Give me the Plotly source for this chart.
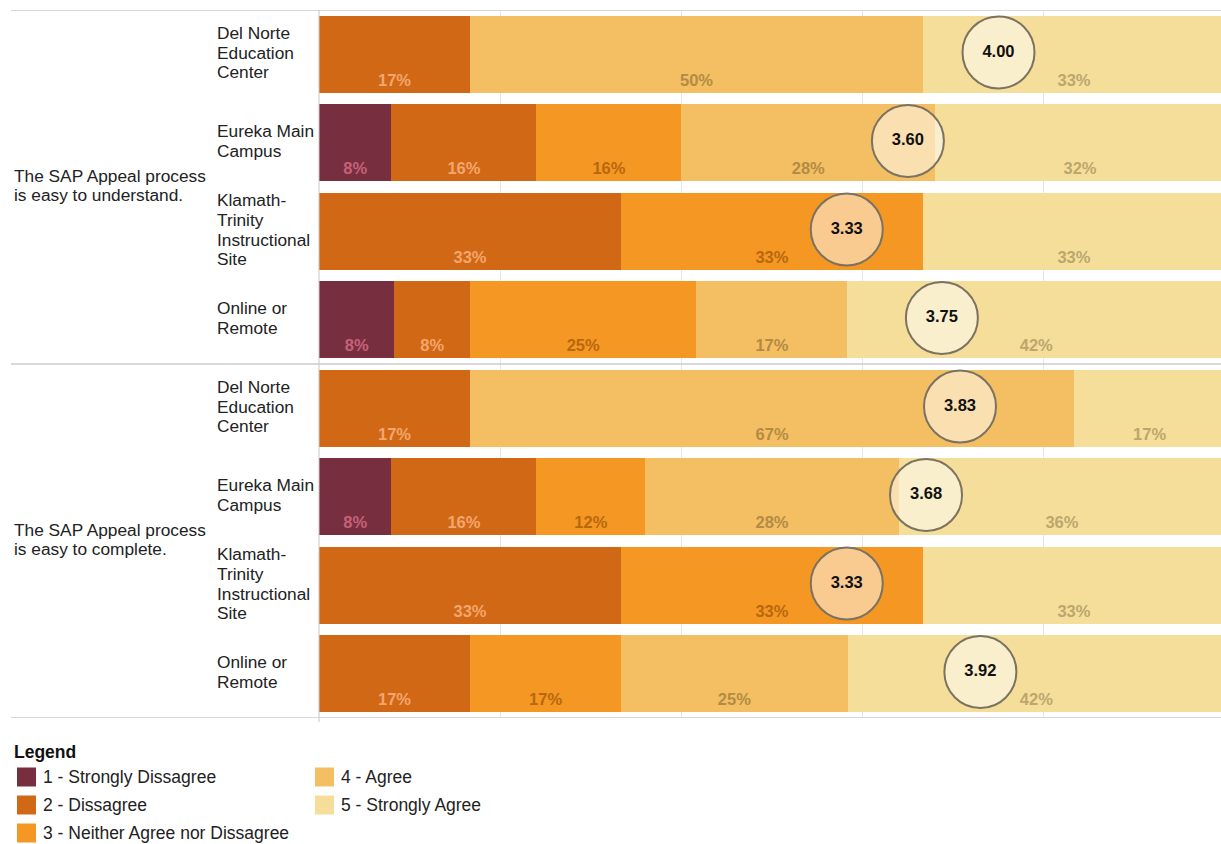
import plotly.graph_objects as go

# Survey responses by campus, percent of respondents per rating
questions = [["The SAP Appeal process", "is easy to understand."],
             ["The SAP Appeal process", "is easy to complete."]]
campuses = [["Del Norte", "Education", "Center"],
            ["Eureka Main", "Campus"],
            ["Klamath-", "Trinity", "Instructional", "Site"],
            ["Online or", "Remote"]]

ratings = ["1 - Strongly Dissagree", "2 - Dissagree",
           "3 - Neither Agree nor Dissagree", "4 - Agree",
           "5 - Strongly Agree"]

# rows: understand x 4 campuses, then complete x 4 campuses
strongly_disagree = [0, 8, 0, 8.33, 0, 8, 0, 0]
disagree = [16.67, 16, 33.33, 8.33, 16.67, 16, 33.33, 16.67]
neither = [0, 16, 33.33, 25, 0, 12, 33.33, 16.67]
agree = [50, 28, 0, 16.67, 66.67, 28, 0, 25]
strongly_agree = [33.33, 32, 33.33, 41.67, 16.67, 36, 33.33, 41.67]

mean_score = [4.00, 3.60, 3.33, 3.75, 3.83, 3.68, 3.33, 3.92]

bar_colors = ["#772F3F", "#D16816", "#F49723", "#F4BF62", "#F5DE99"]
label_colors = ["#C4627A", "#F3A66C", "#B9670F", "#B38B45", "#BBA76E"]

series = [strongly_disagree, disagree, neither, agree, strongly_agree]
rows = list(range(8))
FONT = "Liberation Sans, Arial, sans-serif"
TXT = 17.3

fig = go.Figure()

for name, vals, col in zip(ratings, series, bar_colors):
    fig.add_trace(go.Bar(
        y=rows, x=vals, orientation="h", name=name,
        marker=dict(color=col, line=dict(width=0)),
        width=0.87, showlegend=False, hoverinfo="skip",
    ))

# percentage labels near the bottom edge of each segment
for k, (vals, tcol) in enumerate(zip(series, label_colors)):
    xs, ys, ts = [], [], []
    for r in rows:
        v = vals[r]
        if v <= 0:
            continue
        start = sum(series[j][r] for j in range(k))
        xs.append(start + v / 2)
        ys.append(r + 0.31)
        ts.append(f"{v:.0f}%")
    fig.add_trace(go.Scatter(
        x=xs, y=ys, text=ts, mode="text", showlegend=False,
        hoverinfo="skip",
        textfont=dict(family=FONT, size=16.5, color=tcol, weight="bold"),
    ))

# mean score bubbles, placed on the 1..5 scale across the full bar
fig.add_trace(go.Scatter(
    x=[(m - 1) / 4 * 100 for m in mean_score],
    y=[r - 0.02 for r in rows],
    mode="markers+text",
    text=[f"{m:.2f}" for m in mean_score],
    textposition="middle center",
    textfont=dict(family=FONT, size=16.5, color="#111111", weight="bold"),
    marker=dict(size=72, color="rgba(255,255,255,0.5)",
                line=dict(color="#7B7261", width=2)),
    showlegend=False, hoverinfo="skip",
))

PX_L, PX_R, PX_T, PX_B = 319, 1221, 10, 718
W, H = 1221, 844
ROW_PX = (PX_B - PX_T) / 8


def px_x(px):
    return (px - PX_L) / (PX_R - PX_L)


def px_y(py):
    return (PX_B - py) / (PX_B - PX_T)


def text_block(lines, x_px, center_row, spacing_px):
    """One annotation per line so the line spacing stays tight."""
    out = []
    n = len(lines)
    for i, line in enumerate(lines):
        off = (i - (n - 1) / 2) * spacing_px - 1.5
        out.append(dict(
            x=px_x(x_px - 2), xref="paper", y=center_row + off / ROW_PX,
            yref="y", xanchor="left", yanchor="middle", showarrow=False,
            text=line, font=dict(family=FONT, size=TXT, color="#222222"),
        ))
    return out


annotations = []
for r in rows:
    annotations += text_block(campuses[r % 4], 217, r, 19.6)
for q, yc in zip(questions, [1.5, 5.5]):
    annotations += text_block(q, 14, yc, 19.6)

shapes = []
# group separators
for yv in [-0.5, 3.5, 7.5]:
    shapes.append(dict(type="line", xref="paper", yref="y",
                       x0=px_x(11), x1=1, y0=yv, y1=yv,
                       line=dict(color="#CCCCCC", width=1.5)))
# left axis line
shapes.append(dict(type="line", xref="paper", yref="paper",
                   x0=0, x1=0, y0=px_y(722), y1=px_y(10),
                   line=dict(color="#C8C8C8", width=1)))

# legend block
annotations.append(dict(
    x=px_x(12), xref="paper", y=px_y(752), yref="paper",
    xanchor="left", yanchor="middle", showarrow=False,
    text="<b>Legend</b>",
    font=dict(family=FONT, size=17.5, color="#111111"),
))
legend_pos = [(17, 777), (17, 805), (17, 833), (315, 777), (315, 805)]
for name, col, (lx, ly) in zip(ratings, bar_colors, legend_pos):
    shapes.append(dict(type="rect", xref="paper", yref="paper",
                       x0=px_x(lx), x1=px_x(lx + 19),
                       y0=px_y(ly + 9.5), y1=px_y(ly - 9.5),
                       fillcolor=col, line=dict(width=0)))
    annotations.append(dict(
        x=px_x(lx + 24), xref="paper", y=px_y(ly), yref="paper",
        xanchor="left", yanchor="middle", showarrow=False, text=name,
        font=dict(family=FONT, size=17.5, color="#222222"),
    ))

fig.update_layout(
    width=W, height=H,
    margin=dict(l=PX_L, r=W - PX_R, t=PX_T, b=H - PX_B),
    barmode="stack", bargap=0.13,
    plot_bgcolor="white", paper_bgcolor="white",
    xaxis=dict(range=[0, (PX_R - PX_L) / 906 * 100], dtick=20,
               showgrid=True, gridcolor="#E6E6E6", gridwidth=1,
               showticklabels=False, zeroline=False, ticks="",
               fixedrange=True),
    yaxis=dict(range=[7.5, -0.5], showgrid=False, showticklabels=False,
               zeroline=False, ticks="", fixedrange=True),
    annotations=annotations, shapes=shapes,
    showlegend=False,
)

fig.write_html("out.html")
